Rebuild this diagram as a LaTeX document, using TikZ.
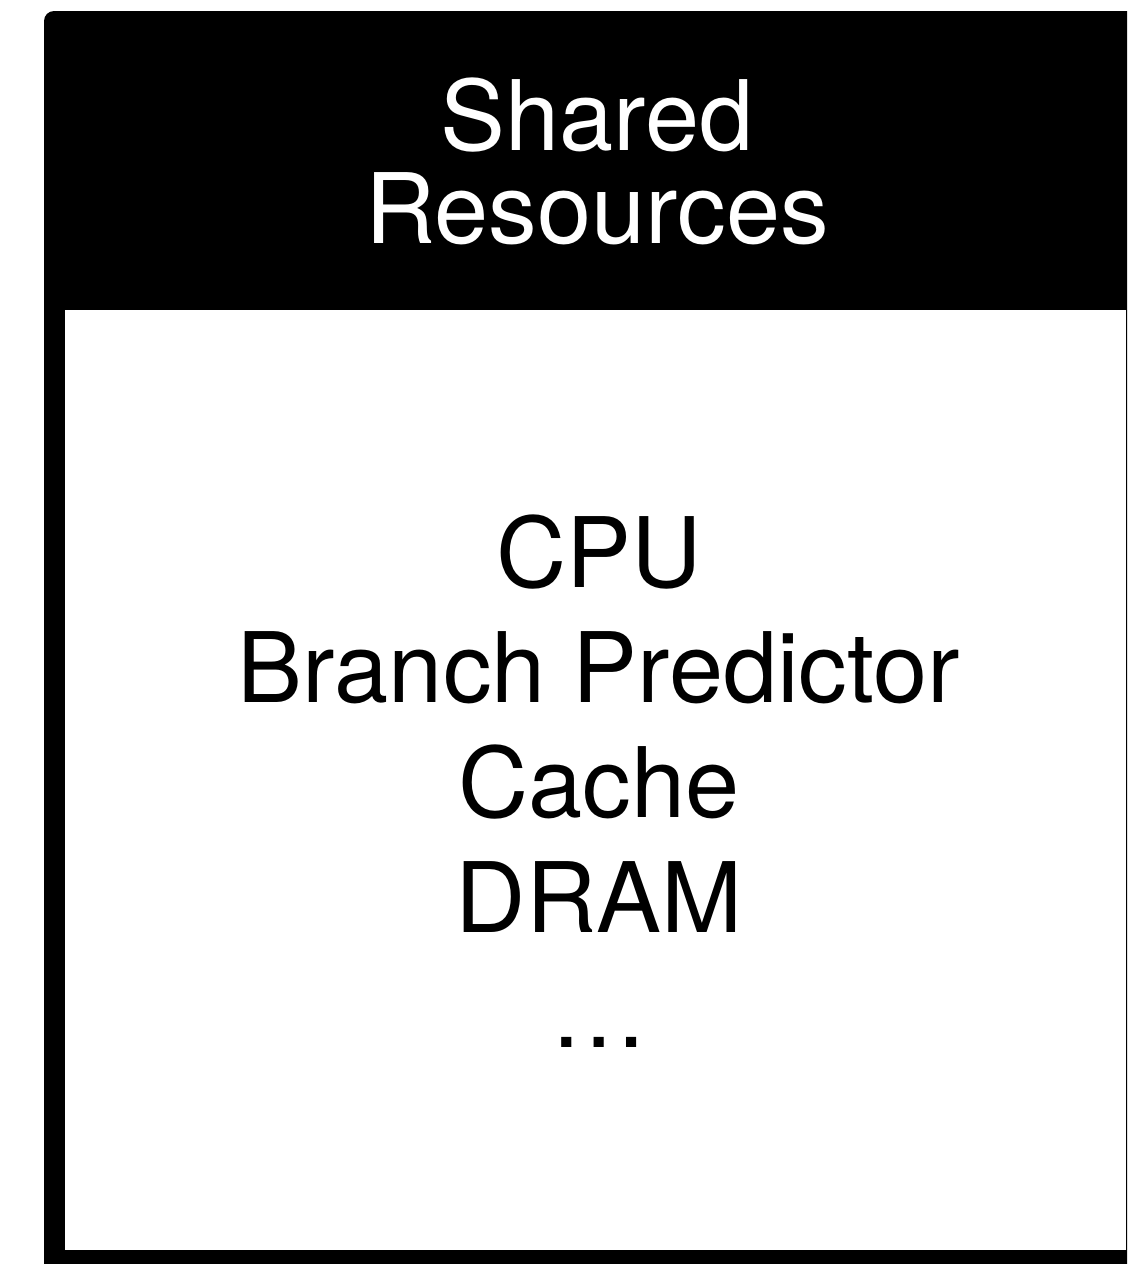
\documentclass[tikz,border=0pt]{standalone}
\usepackage{fontspec}
\setmainfont{TeX Gyre Heros}
\usetikzlibrary{positioning}
\tikzset{
  bigtext/.style={font=\fontsize{69.2}{80}\selectfont, anchor=base, inner sep=0pt},
}

\begin{document}
\begin{tikzpicture}[x=0.025cm, y=-0.025cm]
    \useasboundingbox (0,0) rectangle (1127,1264);
    \clip (0,0) rectangle (1127,1264);

    % frame and header
    \fill[black, rounded corners=0.25cm] (44,11) rectangle (1160,1300);
    \fill[white] (65,310) rectangle (1126,1250);

    \node[bigtext, white] (shared) at (597,150) {Shared};
    \node[bigtext, white] (resources) at (597,243) {Resources};

    % list of resources
    \foreach \txt [count=\i] in {CPU, Branch Predictor, Cache, DRAM, …} {
        \node[bigtext] (res\i) at (599, 472+115*\i) {\txt};
    }
\end{tikzpicture}
\end{document}
